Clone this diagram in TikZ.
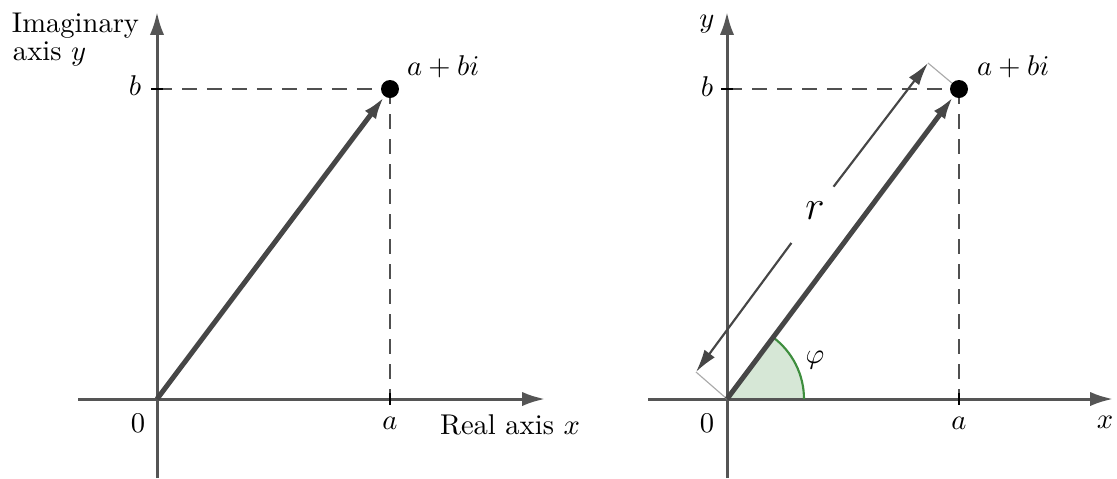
\documentclass[tikz,border=0pt]{standalone}
\usetikzlibrary{arrows.meta,calc}
\definecolor{axisgray}{HTML}{555555}
\definecolor{vecgray}{HTML}{464646}
\definecolor{dashgray}{HTML}{505050}
\definecolor{arcgreen}{HTML}{3E8E3E}
\definecolor{sectorfill}{HTML}{D6E7D6}
\definecolor{thingray}{HTML}{AAAAAA}
\begin{document}
\begin{tikzpicture}[x=0.35pt,y=-0.35pt,
  axisline/.style={draw=axisgray,line width=1.05pt,-{Latex[length=8pt,width=5pt]}},
  vecline/.style={draw=vecgray,line width=1.75pt,-{Latex[length=8pt,width=4.8pt]}},
  guide/.style={draw=dashgray,line width=0.75pt,dash pattern=on 5.25pt off 3.5pt},
  tickmark/.style={draw=black,line width=0.95pt},
  pointdot/.style={circle,fill=black,inner sep=0pt,minimum size=6.3pt},
  lbl/.style={inner sep=0pt,outer sep=0pt},
  rarrow/.style={draw=vecgray,line width=0.75pt,-{Latex[length=8pt,width=4.5pt]}},
  perp/.style={draw=thingray,line width=0.4pt},
  rlabel/.style={circle,inner sep=0pt,minimum size=21pt,font=\fontsize{14.5}{17}\selectfont}
]
\useasboundingbox (0,0) rectangle (1117,478);

% ---------------- left panel ----------------
\coordinate (O1) at (157,399);
\coordinate (Y1b) at (157,478);
\coordinate (Y1t) at (157,12);
\coordinate (X1l) at (78,399);
\coordinate (X1r) at (545,399);
\coordinate (P1c) at (390,89);
\coordinate (B1) at (157,89);
\coordinate (A1) at (390,399);
\coordinate (B1l) at (151,89);
\coordinate (B1r) at (163,89);
\coordinate (A1t) at (390,393);
\coordinate (A1b) at (390,405);

\draw[axisline] (Y1b) -- (Y1t);
\draw[axisline] (X1l) -- (X1r);
\draw[guide] (B1) -- (P1c);
\draw[guide] (P1c) -- (A1);
\draw[tickmark] (B1l) -- (B1r);
\draw[tickmark] (A1t) -- (A1b);
\node[pointdot] (P1) at (P1c) {};
\draw[vecline] (O1) -- (P1);

\node[lbl,anchor=base west] (im1) at (12,32) {Imaginary};
\node[lbl,anchor=base west] (im2) at (13,60) {axis $y$};
\node[lbl] (b1) at (135,86) {$b$};
\node[lbl,anchor=base] (z1) at (138,432) {$0$};
\node[lbl,anchor=base] (a1) at (390,429) {$a$};
\node[lbl,anchor=base west] (rx) at (440,434) {Real axis $x$};
\node[lbl,anchor=base west] (pt1) at (407,75) {$a+bi$};

% ---------------- right panel ----------------
\coordinate (O2) at (727,399);
\coordinate (Y2b) at (727,478);
\coordinate (Y2t) at (727,12);
\coordinate (X2l) at (648,399);
\coordinate (X2r) at (1113,399);
\coordinate (P2c) at (959,89);
\coordinate (B2) at (727,89);
\coordinate (A2) at (959,399);
\coordinate (B2l) at (721,89);
\coordinate (B2r) at (733,89);
\coordinate (A2t) at (959,393);
\coordinate (A2b) at (959,405);
\coordinate (Rt) at (928,63);
\coordinate (Rb) at (696,372);

\fill[sectorfill] (O2) -- ++(26.95pt,0) arc[start angle=0,end angle=53.19,radius=26.95pt] -- cycle;
\draw[axisline] (Y2b) -- (Y2t);
\draw[axisline] (X2l) -- (X2r);
\draw[guide] (B2) -- (P2c);
\draw[guide] (P2c) -- (A2);
\draw[tickmark] (B2l) -- (B2r);
\draw[tickmark] (A2t) -- (A2b);
\draw[perp] (P2c) -- (Rt);
\draw[perp] (O2) -- (Rb);
\node[rlabel] (r) at (815,211) {$r$};
\draw[rarrow] (r) -- (Rt);
\draw[rarrow,shorten <=3.2pt] (r) -- (Rb);
\draw[arcgreen,line width=0.75pt] (O2) ++(26.95pt,0) arc[start angle=0,end angle=53.19,radius=26.95pt];
\node[pointdot] (P2) at (P2c) {};
\draw[vecline] (O2) -- (P2);

\node[lbl,anchor=base] (y2) at (707,27) {$y$};
\node[lbl] (b2) at (707,87) {$b$};
\node[lbl,anchor=base] (z2) at (707,432) {$0$};
\node[lbl,anchor=base] (a2) at (959,429) {$a$};
\node[lbl,anchor=base] (x2) at (1105,428) {$x$};
\node[lbl] (phi) at (815,360) {$\varphi$};
\node[lbl,anchor=base west] (pt2) at (977,75) {$a+bi$};
\end{tikzpicture}
\end{document}
